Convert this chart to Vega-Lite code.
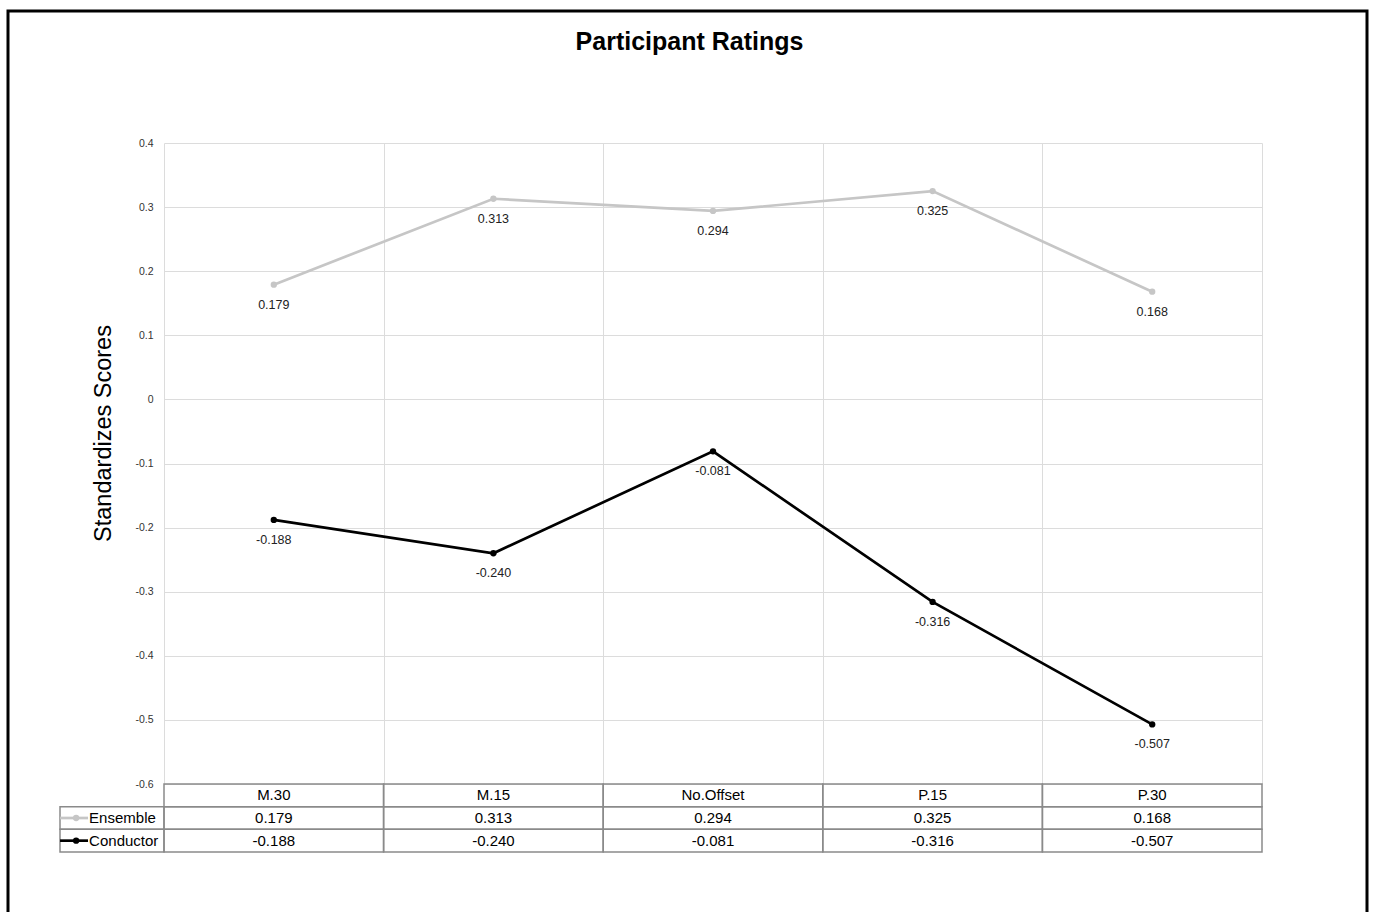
{
  "$schema": "https://vega.github.io/schema/vega-lite/v6.json",
  "width": 1359,
  "height": 905,
  "autosize": {"type": "none"},
  "padding": {"left": 8, "top": 11, "right": 8, "bottom": 0},
  "background": "white",
  "title": {
    "text": "Participant Ratings",
    "fontSize": 25,
    "fontWeight": "bold",
    "color": "black",
    "anchor": "middle",
    "offset": -44,
    "dx": 2
  },
  "datasets": {
    "ratings": [
      {"cond": "M.30", "series": "Ensemble", "value": 0.179},
      {"cond": "M.15", "series": "Ensemble", "value": 0.313},
      {"cond": "No.Offset", "series": "Ensemble", "value": 0.294},
      {"cond": "P.15", "series": "Ensemble", "value": 0.325},
      {"cond": "P.30", "series": "Ensemble", "value": 0.168},
      {"cond": "M.30", "series": "Conductor", "value": -0.188},
      {"cond": "M.15", "series": "Conductor", "value": -0.240},
      {"cond": "No.Offset", "series": "Conductor", "value": -0.081},
      {"cond": "P.15", "series": "Conductor", "value": -0.316},
      {"cond": "P.30", "series": "Conductor", "value": -0.507}
    ]
  },
  "data": {"name": "ratings"},
  "resolve": {"scale": {"x": "independent", "y": "independent"}},
  "layer": [
    {
      "encoding": {
        "x": {
          "field": "cond", "type": "nominal",
          "scale": {"type": "band", "domain": ["M.30", "M.15", "No.Offset", "P.15", "P.30"], "range": [156, 1254], "paddingInner": 0, "paddingOuter": 0},
          "axis": {"title": null, "labels": false, "ticks": false, "domain": false, "grid": true, "tickBand": "extent", "gridColor": "#dcdcdc", "gridWidth": 1}
        },
        "y": {
          "field": "value", "type": "quantitative",
          "scale": {"domain": [-0.6, 0.4], "range": [773, 132], "nice": false, "zero": false},
          "axis": {
            "title": "Standardizes Scores",
            "values": [-0.6, -0.5, -0.4, -0.3, -0.2, -0.1, 0, 0.1, 0.2, 0.3, 0.4],
            "format": ".1~f",
            "offset": -156,
            "ticks": false, "tickSize": 0, "domain": false,
            "labelPadding": 11, "labelFontSize": 10.5, "labelColor": "#333333",
            "gridColor": "#dcdcdc", "gridWidth": 1,
            "titleFontSize": 23.5, "titleFontWeight": "normal", "titleColor": "black",
            "titlePadding": 19, "titleY": 422
          }
        },
        "color": {
          "field": "series", "type": "nominal",
          "scale": {"domain": ["Ensemble", "Conductor"], "range": ["#c6c6c6", "#000000"]},
          "legend": null
        }
      },
      "layer": [
        {"mark": {"type": "line", "strokeWidth": 2.7}},
        {"mark": {"type": "point", "filled": true, "size": 40, "opacity": 1}},
        {
          "mark": {"type": "text", "dy": 20, "fontSize": 12.5, "baseline": "middle", "align": "center"},
          "encoding": {
            "text": {"field": "value", "type": "quantitative", "format": ".3f"},
            "color": {"value": "#222222"}
          }
        }
      ]
    },
    {
      "encoding": {
        "x": {
          "field": "cond", "type": "nominal",
          "scale": {"type": "band", "domain": ["M.30", "M.15", "No.Offset", "P.15", "P.30"], "range": [156, 1254], "paddingInner": 0, "paddingOuter": 0},
          "axis": null
        },
        "y": {
          "field": "series", "type": "nominal",
          "scale": {"type": "band", "domain": ["header", "Ensemble", "Conductor"], "range": [773, 841], "paddingInner": 0, "paddingOuter": 0},
          "axis": null
        }
      },
      "layer": [
        {"mark": {"type": "rect", "filled": false, "stroke": "#8a8a8a", "strokeWidth": 1.5}},
        {
          "mark": {"type": "text", "fontSize": 15, "color": "black", "baseline": "middle"},
          "encoding": {"text": {"field": "value", "type": "quantitative", "format": ".3f"}}
        },
        {
          "transform": [{"filter": "datum.series === 'Ensemble'"}],
          "mark": {"type": "rect", "filled": false, "stroke": "#8a8a8a", "strokeWidth": 1.5},
          "encoding": {
            "y": {"datum": "header", "type": "nominal", "scale": {"type": "band", "domain": ["header", "Ensemble", "Conductor"], "range": [773, 841], "paddingInner": 0, "paddingOuter": 0}, "axis": null}
          }
        },
        {
          "transform": [{"filter": "datum.series === 'Ensemble'"}],
          "mark": {"type": "text", "fontSize": 15, "color": "black", "baseline": "middle"},
          "encoding": {
            "y": {"datum": "header", "type": "nominal", "scale": {"type": "band", "domain": ["header", "Ensemble", "Conductor"], "range": [773, 841], "paddingInner": 0, "paddingOuter": 0}, "axis": null},
            "text": {"field": "cond", "type": "nominal"}
          }
        }
      ]
    },
    {
      "transform": [{"filter": "datum.cond === 'M.30'"}],
      "encoding": {
        "x": {
          "datum": "legend", "type": "nominal",
          "scale": {"type": "band", "domain": ["legend"], "range": [52, 156], "paddingInner": 0, "paddingOuter": 0},
          "axis": null
        },
        "y": {
          "field": "series", "type": "nominal",
          "scale": {"type": "band", "domain": ["header", "Ensemble", "Conductor"], "range": [773, 841], "paddingInner": 0, "paddingOuter": 0},
          "axis": null
        }
      },
      "layer": [
        {"mark": {"type": "rect", "filled": false, "stroke": "#8a8a8a", "strokeWidth": 1.5}},
        {
          "mark": {"type": "point", "shape": "M-1,0L1,0", "size": 784, "strokeWidth": 2.7, "filled": false, "opacity": 1},
          "encoding": {
            "x": {"datum": "legend", "type": "nominal", "bandPosition": 0.135, "scale": {"type": "band", "domain": ["legend"], "range": [52, 156], "paddingInner": 0, "paddingOuter": 0}, "axis": null},
            "color": {"field": "series", "type": "nominal", "scale": {"domain": ["Ensemble", "Conductor"], "range": ["#c6c6c6", "#000000"]}, "legend": null}
          }
        },
        {
          "mark": {"type": "point", "shape": "circle", "size": 40, "filled": true, "opacity": 1},
          "encoding": {
            "x": {"datum": "legend", "type": "nominal", "bandPosition": 0.155, "scale": {"type": "band", "domain": ["legend"], "range": [52, 156], "paddingInner": 0, "paddingOuter": 0}, "axis": null},
            "color": {"field": "series", "type": "nominal", "scale": {"domain": ["Ensemble", "Conductor"], "range": ["#c6c6c6", "#000000"]}, "legend": null}
          }
        },
        {
          "mark": {"type": "text", "fontSize": 15, "color": "black", "align": "left", "baseline": "middle"},
          "encoding": {
            "x": {"datum": "legend", "type": "nominal", "bandPosition": 0.28, "scale": {"type": "band", "domain": ["legend"], "range": [52, 156], "paddingInner": 0, "paddingOuter": 0}, "axis": null},
            "text": {"field": "series", "type": "nominal"}
          }
        }
      ]
    }
  ],
  "config": {
    "font": "Liberation Sans",
    "view": {"stroke": "black", "strokeWidth": 3},
    "locale": {"number": {"decimal": ".", "thousands": ",", "grouping": [3], "currency": ["$", ""], "minus": "-"}}
  }
}
